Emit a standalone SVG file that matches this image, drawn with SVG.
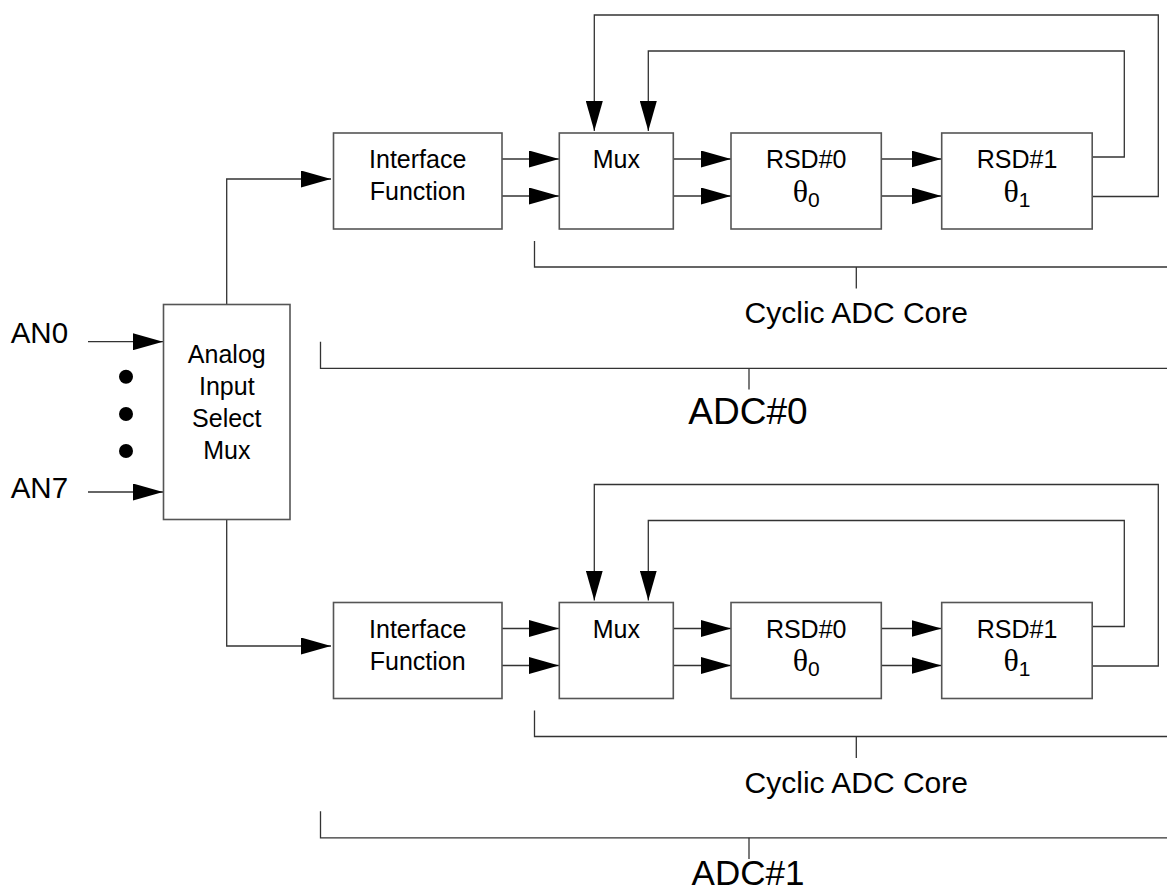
<svg xmlns="http://www.w3.org/2000/svg" width="1167" height="894" viewBox="0 0 1167 894">
<style>
.box{fill:#fff;stroke:#555;stroke-width:1.6}
.ln{fill:none;stroke:#333;stroke-width:1.3}
.arr{fill:none;stroke:#333;stroke-width:1.3;marker-end:url(#ah)}
.t{font-family:"Liberation Sans",Arial,sans-serif;font-size:25px;fill:#000;text-anchor:middle}
.th{font-family:"Liberation Serif","Times New Roman",serif;font-size:32px}
.sub{font-family:"Liberation Sans",Arial,sans-serif;font-size:21px}
.lbl{font-family:"Liberation Sans",Arial,sans-serif;font-size:30px;fill:#000;text-anchor:middle}
.big{font-family:"Liberation Sans",Arial,sans-serif;font-size:37px;fill:#000;text-anchor:middle}
.an{font-family:"Liberation Sans",Arial,sans-serif;font-size:29.5px;fill:#000}
</style>
<defs>
<marker id="ah" markerUnits="userSpaceOnUse" markerWidth="30" markerHeight="17" refX="30" refY="8.5" orient="auto" viewBox="0 0 30 17">
<path d="M0,0 L30,8.5 L0,17 Z" fill="#000"/>
</marker>
</defs>
<rect width="1167" height="894" fill="#fff"/>

<g id="connectors">
<line class="arr" x1="88" y1="341.7" x2="163" y2="341.7"/>
<line class="arr" x1="88" y1="492" x2="163" y2="492"/>
<polyline class="arr" points="226.7,304.5 226.7,179 331,179"/>
<polyline class="arr" points="226.7,519.5 226.7,646 331,646"/>
<g id="chain0">
<line class="arr" x1="502" y1="159" x2="559" y2="159"/>
<line class="arr" x1="502" y1="196" x2="559" y2="196"/>
<line class="arr" x1="673" y1="159" x2="731" y2="159"/>
<line class="arr" x1="673" y1="196" x2="731" y2="196"/>
<line class="arr" x1="881.5" y1="159" x2="941.5" y2="159"/>
<line class="arr" x1="881.5" y1="196" x2="941.5" y2="196"/>
<polyline class="arr" points="1092,157 1124.3,157 1124.3,51 648.3,51 648.3,131"/>
<polyline class="arr" points="1092,196.5 1158.3,196.5 1158.3,15 594.3,15 594.3,131"/>
</g>
<g id="chain1" transform="translate(0,469.5)">
<line class="arr" x1="502" y1="159" x2="559" y2="159"/>
<line class="arr" x1="502" y1="196" x2="559" y2="196"/>
<line class="arr" x1="673" y1="159" x2="731" y2="159"/>
<line class="arr" x1="673" y1="196" x2="731" y2="196"/>
<line class="arr" x1="881.5" y1="159" x2="941.5" y2="159"/>
<line class="arr" x1="881.5" y1="196" x2="941.5" y2="196"/>
<polyline class="arr" points="1092,157 1124.3,157 1124.3,51 648.3,51 648.3,131"/>
<polyline class="arr" points="1092,196.5 1158.3,196.5 1158.3,15 594.3,15 594.3,131"/>
</g>
</g>

<g id="inputs">
<text class="an" x="10.7" y="343.3">AN0</text>
<text class="an" x="10.7" y="498.3">AN7</text>
<circle cx="126" cy="376.7" r="7" fill="#000"/>
<circle cx="126" cy="414" r="7" fill="#000"/>
<circle cx="126" cy="451" r="7" fill="#000"/>
</g>

<g id="analog-mux">
<rect class="box" x="163.5" y="304.5" width="126.5" height="215"/>
<text class="t" x="226.8" y="363">Analog</text>
<text class="t" x="226.8" y="395">Input</text>
<text class="t" x="226.8" y="427">Select</text>
<text class="t" x="226.8" y="458.5">Mux</text>
</g>

<g id="adc0">
<g id="interface0">
<rect class="box" x="333.5" y="133" width="168.5" height="96"/>
<text class="t" x="417.7" y="168">Interface</text>
<text class="t" x="417.7" y="200">Function</text>
</g>
<g id="mux0">
<rect class="box" x="559.3" y="133" width="114" height="96"/>
<text class="t" x="616.3" y="168">Mux</text>
</g>
<g id="rsd0-0">
<rect class="box" x="731" y="133" width="150.3" height="96"/>
<text class="t" x="806.2" y="168">RSD#0</text>
<text class="t" x="806.2" y="201.7"><tspan class="th">θ</tspan><tspan class="sub" dy="5">0</tspan></text>
</g>
<g id="rsd1-0">
<rect class="box" x="941.7" y="133" width="150.5" height="96"/>
<text class="t" x="1017" y="168">RSD#1</text>
<text class="t" x="1017" y="201.7"><tspan class="th">θ</tspan><tspan class="sub" dy="5">1</tspan></text>
</g>
<g id="core-bracket0">
<polyline class="ln" points="534.5,241 534.5,267 1167,267"/>
<line class="ln" x1="856.3" y1="267" x2="856.3" y2="288.5"/>
<text class="lbl" x="856.3" y="323.3">Cyclic ADC Core</text>
</g>
<g id="adc-bracket0">
<polyline class="ln" points="320.5,341.7 320.5,368.3 1167,368.3"/>
<line class="ln" x1="749" y1="368.3" x2="749" y2="389.5"/>
<text class="big" x="748" y="424">ADC#0</text>
</g>
</g>

<g id="adc1" transform="translate(0,469.5)">
<g id="interface1">
<rect class="box" x="333.5" y="133" width="168.5" height="96"/>
<text class="t" x="417.7" y="168">Interface</text>
<text class="t" x="417.7" y="200">Function</text>
</g>
<g id="mux1">
<rect class="box" x="559.3" y="133" width="114" height="96"/>
<text class="t" x="616.3" y="168">Mux</text>
</g>
<g id="rsd0-1">
<rect class="box" x="731" y="133" width="150.3" height="96"/>
<text class="t" x="806.2" y="168">RSD#0</text>
<text class="t" x="806.2" y="201.7"><tspan class="th">θ</tspan><tspan class="sub" dy="5">0</tspan></text>
</g>
<g id="rsd1-1">
<rect class="box" x="941.7" y="133" width="150.5" height="96"/>
<text class="t" x="1017" y="168">RSD#1</text>
<text class="t" x="1017" y="201.7"><tspan class="th">θ</tspan><tspan class="sub" dy="5">1</tspan></text>
</g>
<g id="core-bracket1">
<polyline class="ln" points="534.5,241 534.5,267 1167,267"/>
<line class="ln" x1="856.3" y1="267" x2="856.3" y2="288.5"/>
<text class="lbl" x="856.3" y="323.3">Cyclic ADC Core</text>
</g>
<g id="adc-bracket1">
<polyline class="ln" points="320.5,341.7 320.5,368.3 1167,368.3"/>
<line class="ln" x1="749" y1="368.3" x2="749" y2="389.5"/>
<text class="big" x="748" y="415.5" style="font-size:35px">ADC#1</text>
</g>
</g>
</svg>
